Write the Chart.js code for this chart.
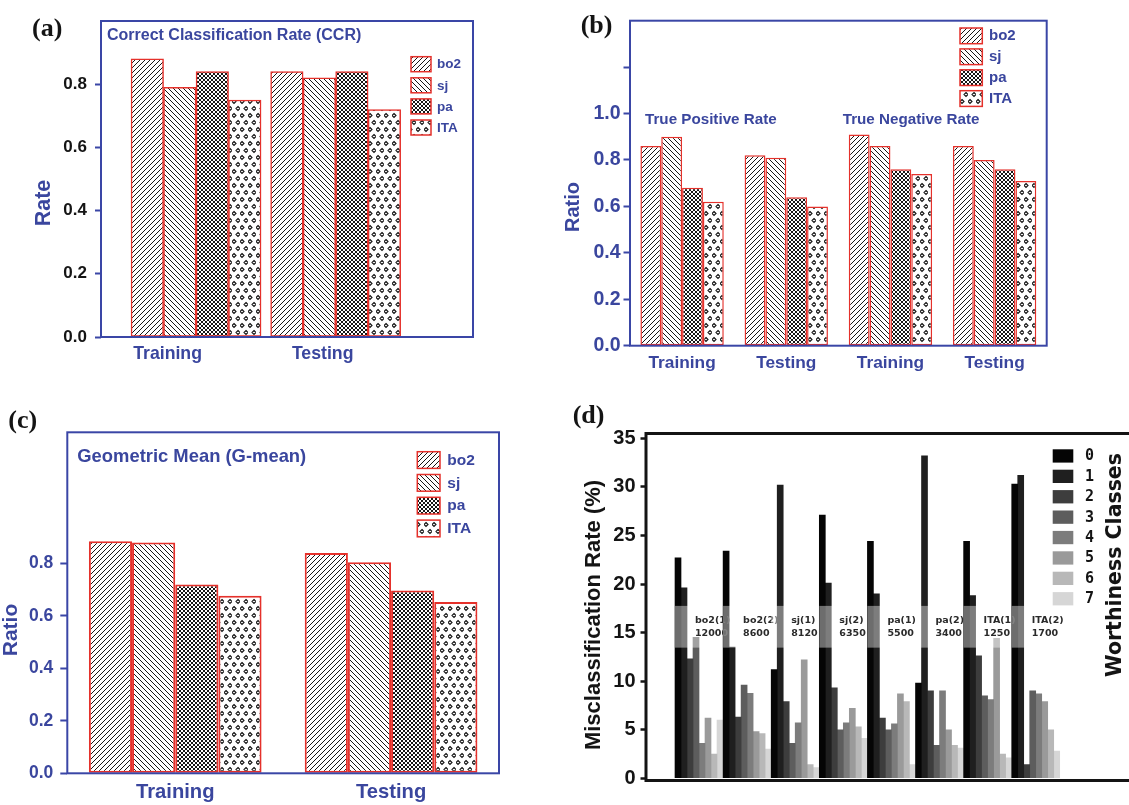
<!DOCTYPE html>
<html>
<head>
<meta charset="utf-8">
<title>Classification performance</title>
<script src="https://cdn.jsdelivr.net/npm/chart.js@4.4.1/dist/chart.umd.min.js"></script>
<style>
  html, body { margin: 0; padding: 0; background: #fff; overflow: hidden; }
  #fig { position: relative; width: 1129px; height: 805px; overflow: hidden; background: #fff; }
  #fig canvas { position: absolute; }
</style>
</head>
<body>
<div id="fig">
  <canvas id="panelA" width="560" height="395" style="left:0;top:0"></canvas>
  <canvas id="panelB" width="569" height="395" style="left:560px;top:0"></canvas>
  <canvas id="panelC" width="565" height="410" style="left:0;top:395px"></canvas>
  <canvas id="panelD" width="580" height="410" style="left:565px;top:395px"></canvas>
</div>
<script>
// ---------------- data ----------------
const methods = ['bo2', 'sj', 'pa', 'ITA'];

// (a) correct classification rate
const ccrPhases = ['Training', 'Testing'];
const ccrBo2 = [0.88, 0.84];
const ccrSj  = [0.79, 0.82];
const ccrPa  = [0.84, 0.84];
const ccrIta = [0.75, 0.72];
const ccrTicks = [0, 0.2, 0.4, 0.6, 0.8];
const ccrTickLabels = ['0.0', '0.2', '0.4', '0.6', '0.8'];

// (b) true positive / true negative rates
const ratePhases = ['Training', 'Testing', 'Training', 'Testing'];
const rateKinds = ['True Positive Rate', 'True Negative Rate'];
const rateBo2 = [0.86, 0.82, 0.91, 0.86];
const rateSj  = [0.90, 0.81, 0.86, 0.80];
const ratePa  = [0.68, 0.64, 0.76, 0.76];
const rateIta = [0.62, 0.60, 0.74, 0.71];
const rateTicks = [0, 0.2, 0.4, 0.6, 0.8, 1.0, 1.2];
const rateTickLabels = ['0.0', '0.2', '0.4', '0.6', '0.8', '1.0', ''];

// (c) geometric mean
const gmPhases = ['Training', 'Testing'];
const gmBo2 = [0.885, 0.84];
const gmSj  = [0.88, 0.805];
const gmPa  = [0.72, 0.697];
const gmIta = [0.677, 0.653];
const gmTicks = [0, 0.2, 0.4, 0.6, 0.8];
const gmTickLabels = ['0.0', '0.2', '0.4', '0.6', '0.8'];

// (d) misclassification rate per worthiness class
const mcGroups = ['bo2(1)', 'bo2(2)', 'sj(1)', 'sj(2)', 'pa(1)', 'pa(2)', 'ITA(1)', 'ITA(2)'];
const mcSizes  = ['12000', '8600', '8120', '6350', '5500', '3400', '1250', '1700'];
const mcClasses = ['0', '1', '2', '3', '4', '5', '6', '7'];
const mcClass0 = [22.7, 23.4, 11.2, 27.1, 24.4,  9.8, 24.4, 30.3];
const mcClass1 = [19.6, 13.5, 30.2, 20.1, 19.0, 33.2, 18.8, 31.2];
const mcClass2 = [12.3,  6.3,  7.9,  9.3,  6.2,  9.0, 12.6,  1.4];
const mcClass3 = [14.5,  9.6,  3.6,  5.0,  5.0,  3.4,  8.5,  9.0];
const mcClass4 = [ 3.6,  8.75, 5.7,  5.7,  5.6,  9.0,  8.1,  8.7];
const mcClass5 = [ 6.2,  4.8, 12.2,  7.2,  8.7,  5.0, 14.4,  7.9];
const mcClass6 = [ 2.5,  4.6,  1.4,  5.3,  7.9,  3.4,  2.5,  5.0];
const mcClass7 = [ 6.0,  3.0,  1.1,  4.1,  1.4,  3.1,  2.1,  2.8];
const mcTicks = [0, 5, 10, 15, 20, 25, 30, 35];
const mcTickLabels = ['0', '5', '10', '15', '20', '25', '30', '35'];

// ---------------- styling ----------------
const SANS = '"Liberation Sans", Arial, sans-serif';
const SERIF = '"Liberation Serif", "Times New Roman", serif';
const DEJAVU = '"DejaVu Sans", sans-serif';
const MONO = '"DejaVu Sans Mono", monospace';
const BLUE = '#3a46a6';
const BLUE_TXT = '#3a469e';
const RED = '#e5312b';
const INK = '#141414';
const GREYS = ['#050505', '#1f1f1f', '#3d3d3d', '#5d5d5d', '#7c7c7c', '#9a9a9a', '#b8b8b8', '#d6d6d6'];

const bold = (size, fam = SANS) => `bold ${size}px ${fam}`;

// ---------------- hatch fills ----------------
function tile(w, h, draw) {
  const c = document.createElement('canvas');
  c.width = w; c.height = h;
  const g = c.getContext('2d');
  g.fillStyle = '#fff';
  g.fillRect(0, 0, w, h);
  g.strokeStyle = '#161616';
  g.lineWidth = 1;
  draw(g, w, h);
  return g.createPattern(c, 'repeat');
}
function slashLines(g, s) {
  g.beginPath();
  for (let k = -1; k <= 1; k++) { g.moveTo(k * s - 1, s + 1); g.lineTo(k * s + s + 1, -1); }
  g.stroke();
}
function backLines(g, s) {
  g.beginPath();
  for (let k = -1; k <= 1; k++) { g.moveTo(k * s - 1, -1); g.lineTo(k * s + s + 1, s + 1); }
  g.stroke();
}
function diamond(g, cx, cy, r) {
  g.beginPath();
  g.moveTo(cx, cy - r); g.lineTo(cx + r, cy); g.lineTo(cx, cy + r); g.lineTo(cx - r, cy);
  g.closePath();
  g.stroke();
}
function hatchSet(fwd, back, cross) {
  return {
    bo2: tile(fwd, fwd, (g, s) => slashLines(g, s)),
    sj:  tile(back, back, (g, s) => backLines(g, s)),
    pa:  tile(cross, cross, (g, s) => { slashLines(g, s); backLines(g, s); }),
    ITA: tile(8, 14, g => { g.lineWidth = 1.1; diamond(g, 2, 3.5, 2); diamond(g, 6, 10.5, 2); })
  };
}
const hatchAB = hatchSet(5, 5, 4);
const hatchC = hatchSet(5, 5, 4);

// ---------------- decoration plugin ----------------
function makeDecor(cfg) {
  return {
    id: 'decor',
    afterDatasetsDraw(chart) {
      if (cfg.underFrame) cfg.underFrame(chart);
    },
    afterDraw(chart) {
      const { ctx, chartArea: a } = chart;
      ctx.save();
      // plot frame
      ctx.strokeStyle = cfg.frameColor;
      ctx.lineWidth = cfg.frameWidth;
      ctx.strokeRect(a.left, a.top, a.right - a.left, a.bottom - a.top);
      // free text
      for (const t of cfg.texts) {
        ctx.save();
        ctx.font = t.font;
        ctx.fillStyle = t.color;
        ctx.textBaseline = 'middle';
        ctx.translate(t.x, t.y);
        if (t.rot) { ctx.rotate(-Math.PI / 2); ctx.textAlign = 'center'; }
        else ctx.textAlign = 'left';
        ctx.fillText(t.text, 0, 0);
        ctx.restore();
      }
      // legend built from the datasets
      const L = cfg.legend;
      if (L) {
        chart.data.datasets.forEach((ds, k) => {
          const y = L.y + k * L.dy;
          ctx.fillStyle = ds.backgroundColor;
          ctx.fillRect(L.x, y, L.w, L.h);
          if (L.border) {
            ctx.strokeStyle = L.border;
            ctx.lineWidth = 1.5;
            ctx.strokeRect(L.x, y, L.w, L.h);
          }
          ctx.font = L.font;
          ctx.fillStyle = L.color;
          ctx.textAlign = 'left';
          ctx.textBaseline = 'middle';
          ctx.fillText(ds.label, L.tx, y + L.h / 2 + 0.5);
        });
      }
      ctx.restore();
    }
  };
}

function valueAxis(min, max, ticks, labels, o) {
  return {
    min, max,
    afterBuildTicks: s => { s.ticks = ticks.map(v => ({ value: v })); },
    afterFit: s => { s.width = o.width; },
    ticks: {
      callback: (v, i) => labels[i],
      font: { family: SANS, size: o.size, weight: 'bold' },
      color: o.color,
      padding: o.pad
    },
    grid: {
      display: true, drawOnChartArea: false, drawTicks: true,
      tickLength: o.tick, tickWidth: o.tickWidth, tickColor: o.frame, color: o.frame
    },
    border: { display: false }
  };
}

function hatchedDatasets(series, fills, extra) {
  return methods.map((m, k) => Object.assign({
    label: m,
    backgroundColor: fills[m],
    borderColor: RED,
    borderSkipped: false
  }, extra(series[k], k)));
}

const base = {
  responsive: false,
  animation: false,
  devicePixelRatio: 1,
  events: []
};

// ---------------- (a) CCR ----------------
new Chart(document.getElementById('panelA'), {
  type: 'bar',
  data: {
    datasets: hatchedDatasets([ccrBo2, ccrSj, ccrPa, ccrIta], hatchAB, vals => ({
      data: vals.map((v, i) => ({ x: i, y: v })),
      borderWidth: 1.5,
      barThickness: 32.5
    }))
  },
  options: Object.assign({}, base, {
    layout: { padding: { left: 0, top: 21, right: 87, bottom: 0 } },
    plugins: { legend: { display: false }, tooltip: { enabled: false } },
    scales: {
      x: {
        type: 'linear', offset: false, min: -0.681, max: 1.984,
        afterBuildTicks: s => { s.ticks = [{ value: -0.204 }, { value: 0.907 }]; },
        afterFit: s => { s.height = 58; },
        ticks: {
          callback: (v, i) => ccrPhases[i], autoSkip: false, maxRotation: 0,
          font: { family: SANS, size: 17.7, weight: 'bold' }, color: BLUE_TXT, padding: 6.4
        },
        grid: { display: false, drawTicks: false },
        border: { display: false }
      },
      y: valueAxis(0, 1.0, ccrTicks, ccrTickLabels,
        { width: 101, size: 17, color: INK, pad: 8, tick: 6, tickWidth: 2, frame: BLUE })
    }
  }),
  plugins: [makeDecor({
    frameColor: BLUE, frameWidth: 2,
    texts: [
      { text: '(a)', x: 32, y: 28.8, font: bold(26, SERIF), color: INK },
      { text: 'Correct Classification Rate (CCR)', x: 107, y: 36, font: bold(16), color: BLUE_TXT },
      { text: 'Rate', x: 44.5, y: 203, font: bold(21.5), color: BLUE_TXT, rot: true }
    ],
    legend: { x: 411, y: 56.7, w: 20, h: 15, dy: 21.1, tx: 437, font: bold(13.5), color: BLUE_TXT, border: RED }
  })]
});

// ---------------- (b) TPR / TNR ----------------
new Chart(document.getElementById('panelB'), {
  type: 'bar',
  data: {
    labels: ratePhases,
    datasets: hatchedDatasets([rateBo2, rateSj, ratePa, rateIta], hatchAB, vals => ({
      data: vals,
      borderWidth: 1.5,
      categoryPercentage: 0.8,
      barPercentage: 1.0
    }))
  },
  options: Object.assign({}, base, {
    layout: { padding: { left: 0, top: 20.7, right: 82.3, bottom: 0 } },
    plugins: { legend: { display: false }, tooltip: { enabled: false } },
    scales: {
      x: {
        afterFit: s => { s.height = 49.3; },
        ticks: {
          autoSkip: false, maxRotation: 0,
          font: { family: SANS, size: 17.3, weight: 'bold' }, color: BLUE_TXT, padding: 7.2
        },
        grid: { display: false, drawTicks: false },
        border: { display: false }
      },
      y: valueAxis(0, 1.4, rateTicks, rateTickLabels,
        { width: 70, size: 19.5, color: BLUE_TXT, pad: 3, tick: 6.5, tickWidth: 2, frame: BLUE })
    }
  }),
  plugins: [makeDecor({
    frameColor: BLUE, frameWidth: 2,
    texts: [
      { text: '(b)', x: 20.7, y: 25.8, font: bold(26, SERIF), color: INK },
      { text: rateKinds[0], x: 85, y: 120.3, font: bold(15.2), color: BLUE_TXT },
      { text: rateKinds[1], x: 282.7, y: 120.3, font: bold(15.2), color: BLUE_TXT },
      { text: 'Ratio', x: 13.8, y: 207, font: bold(20), color: BLUE_TXT, rot: true }
    ],
    legend: { x: 400, y: 28, w: 22.3, h: 15.7, dy: 20.9, tx: 429, font: bold(15), color: BLUE_TXT, border: RED }
  })]
});

// ---------------- (c) G-mean ----------------
new Chart(document.getElementById('panelC'), {
  type: 'bar',
  data: {
    labels: gmPhases,
    datasets: hatchedDatasets([gmBo2, gmSj, gmPa, gmIta], hatchC, vals => ({
      data: vals,
      borderWidth: 2,
      categoryPercentage: 0.8,
      barPercentage: 1.0
    }))
  },
  options: Object.assign({}, base, {
    layout: { padding: { left: 0, top: 37.3, right: 66, bottom: 0 } },
    plugins: { legend: { display: false }, tooltip: { enabled: false } },
    scales: {
      x: {
        afterFit: s => { s.height = 31.7; },
        ticks: {
          autoSkip: false, maxRotation: 0,
          font: { family: SANS, size: 20.2, weight: 'bold' }, color: BLUE_TXT, padding: 7.4
        },
        grid: { display: false, drawTicks: false },
        border: { display: false }
      },
      y: valueAxis(0, 1.3, gmTicks, gmTickLabels,
        { width: 67.3, size: 17.5, color: BLUE_TXT, pad: 7, tick: 7, tickWidth: 2, frame: BLUE })
    }
  }),
  plugins: [makeDecor({
    frameColor: BLUE, frameWidth: 2,
    texts: [
      { text: '(c)', x: 8.3, y: 25.8, font: bold(26, SERIF), color: INK },
      { text: 'Geometric Mean (G-mean)', x: 77.3, y: 62.3, font: bold(18.4), color: BLUE_TXT },
      { text: 'Ratio', x: 11, y: 235, font: bold(21), color: BLUE_TXT, rot: true }
    ],
    legend: { x: 417.3, y: 56.7, w: 22.7, h: 16.7, dy: 22.8, tx: 447.3, font: bold(15.5), color: BLUE_TXT, border: RED }
  })]
});

// ---------------- (d) misclassification by worthiness class ----------------
const mcSeries = [mcClass0, mcClass1, mcClass2, mcClass3, mcClass4, mcClass5, mcClass6, mcClass7];

new Chart(document.getElementById('panelD'), {
  type: 'bar',
  data: {
    datasets: mcClasses.map((c, k) => ({
      label: c,
      data: mcSeries[k].map((v, i) => ({ x: i, y: v })),
      backgroundColor: GREYS[k],
      borderWidth: 0,
      barThickness: 6
    }))
  },
  options: Object.assign({}, base, {
    layout: { padding: { left: 0, top: 38.5, right: 5, bottom: 0 } },
    plugins: { legend: { display: false }, tooltip: { enabled: false } },
    scales: {
      x: {
        type: 'linear', offset: false, min: -1.102, max: 9.168,
        afterFit: s => { s.height = 24.5; },
        ticks: { display: false },
        grid: { display: false, drawTicks: false },
        border: { display: false }
      },
      y: valueAxis(-0.23, 35.5, mcTicks, mcTickLabels,
        { width: 81, size: 20, color: INK, pad: 5, tick: 5.5, tickWidth: 2.5, frame: INK })
    }
  }),
  plugins: [makeDecor({
    frameColor: INK, frameWidth: 3,
    underFrame(chart) {
      // sample-size tags with their translucent backing boxes
      const { ctx, scales: { x, y } } = chart;
      const top = y.getPixelForValue(17.75);
      const bot = y.getPixelForValue(13.45);
      const mid = (top + bot) / 2;
      ctx.save();
      mcGroups.forEach((g, i) => {
        const cx = x.getPixelForValue(i);
        ctx.fillStyle = 'rgba(255,255,255,0.42)';
        ctx.fillRect(cx - 24, top, 47, bot - top);
        ctx.fillStyle = '#2a2a2a';
        ctx.font = bold(9.5, DEJAVU);
        ctx.textAlign = 'left';
        ctx.textBaseline = 'middle';
        ctx.fillText(g, cx - 4, mid - 6.5);
        ctx.fillText(mcSizes[i], cx - 4, mid + 6.5);
      });
      ctx.restore();
    },
    texts: [
      { text: '(d)', x: 7.7, y: 21.7, font: bold(26, SERIF), color: INK },
      { text: 'Misclassification Rate (%)', x: 28.5, y: 220, font: bold(22), color: INK, rot: true },
      { text: 'Worthiness Classes', x: 551, y: 170, font: bold(20.5, DEJAVU), color: INK, rot: true }
    ],
    legend: { x: 487.7, y: 54.3, w: 20.6, h: 13.3, dy: 20.4, tx: 520, font: bold(15, MONO), color: INK, border: null }
  })]
});
</script>
</body>
</html>
